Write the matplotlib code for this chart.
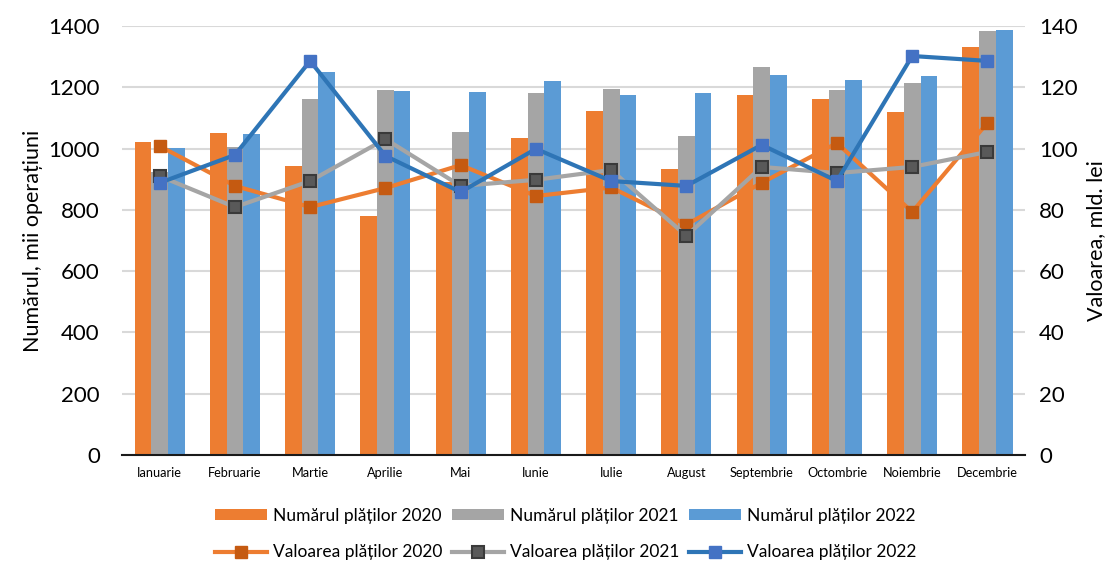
import matplotlib
matplotlib.use("Agg")
import matplotlib.pyplot as plt
import numpy as np

plt.rcParams['font.family'] = ['Lato', 'DejaVu Sans']

months = ["Ianuarie", "Februarie", "Martie", "Aprilie", "Mai", "Iunie", "Iulie",
          "August", "Septembrie", "Octombrie", "Noiembrie", "Decembrie"]

numar_2020 = [1021, 1050, 944, 780, 890, 1034, 1123, 933, 1175, 1162, 1119, 1332]
numar_2021 = [923, 1005, 1161, 1190, 1054, 1181, 1193, 1041, 1265, 1190, 1213, 1384]
numar_2022 = [1002, 1048, 1250, 1188, 1185, 1220, 1176, 1181, 1240, 1223, 1236, 1386]

valoare_2020 = [100.8, 87.8, 80.9, 87.1, 94.6, 84.5, 87.3, 75.2, 88.8, 101.8, 79.3, 108.4]
valoare_2021 = [91.0, 80.9, 89.4, 103.1, 87.8, 89.8, 93.0, 71.5, 94.0, 92.0, 94.0, 98.9]
valoare_2022 = [88.8, 97.9, 128.6, 97.6, 85.8, 99.9, 89.4, 87.8, 101.2, 89.4, 130.2, 128.6]

left_ticks = [0, 200, 400, 600, 800, 1000, 1200, 1400]
right_ticks = [0, 20, 40, 60, 80, 100, 120, 140]

c_or, c_gr, c_bl = "#ED7D31", "#A5A5A5", "#5B9BD5"

fig = plt.figure(figsize=(11.13, 5.61), dpi=100)
ax = fig.add_axes([0.1096, 0.189, 0.8114, 0.7647])
ax2 = ax.twinx()

x = np.arange(len(months))
w = 0.222
b1 = ax.bar(x - w, numar_2020, w, color=c_or, zorder=2)
b2 = ax.bar(x, numar_2021, w, color=c_gr, zorder=2)
b3 = ax.bar(x + w, numar_2022, w, color=c_bl, zorder=2)

ax.set_xlim(-0.5, len(months) - 0.5)
ax.set_ylim(0, 1400)
ax.set_yticks(left_ticks)
ax.set_yticklabels([str(t) for t in left_ticks], fontsize=16)
ax.set_xticks(x)
ax.set_xticklabels(months, fontsize=9.2)
ax.tick_params(axis='x', length=0, pad=9)
ax.tick_params(axis='y', length=0, pad=16)
ax.yaxis.grid(True, color="#D9D9D9", linewidth=1.5, zorder=0)
ax.set_axisbelow(True)
for s in ['top', 'right', 'left']:
    ax.spines[s].set_visible(False)
ax.spines['bottom'].set_color('#1a1a1a')
ax.spines['bottom'].set_linewidth(1.5)
ax.spines['bottom'].set_zorder(3)
ax.set_ylabel("Numărul, mii operațiuni", fontsize=15.5, labelpad=4)

l1, = ax2.plot(x, valoare_2020, color=c_or, lw=3, marker='s', ms=9,
               mfc="#C55A11", mec="#C55A11")
l2, = ax2.plot(x, valoare_2021, color=c_gr, lw=3, marker='s', ms=9,
               mfc="#595959", mec="#3A3A3A", mew=1.5)
l3, = ax2.plot(x, valoare_2022, color="#2E75B6", lw=3, marker='s', ms=9,
               mfc="#4472C4", mec="#4472C4")
ax2.set_ylim(0, 140)
ax2.set_yticks(right_ticks)
ax2.set_yticklabels([str(t) for t in right_ticks], fontsize=16)
ax2.tick_params(axis='y', length=0, pad=10)
for s in ['top', 'right', 'left', 'bottom']:
    ax2.spines[s].set_visible(False)
ax2.set_ylabel("Valoarea, mld. lei", fontsize=15.5, labelpad=6)

handles = [b1, l1, b2, l2, b3, l3]
labels = ["Numărul plăților 2020", "Valoarea plăților 2020",
          "Numărul plăților 2021", "Valoarea plăților 2021",
          "Numărul plăților 2022", "Valoarea plăților 2022"]
fig.legend(handles, labels, ncol=3, loc='upper center', bbox_to_anchor=(0.508, 0.12),
           frameon=False, fontsize=12.5, handlelength=3.0, handleheight=0.6,
           handletextpad=0.35, columnspacing=0.55, labelspacing=1.2,
           borderpad=0.3)

fig.savefig("out.png", dpi=100)
